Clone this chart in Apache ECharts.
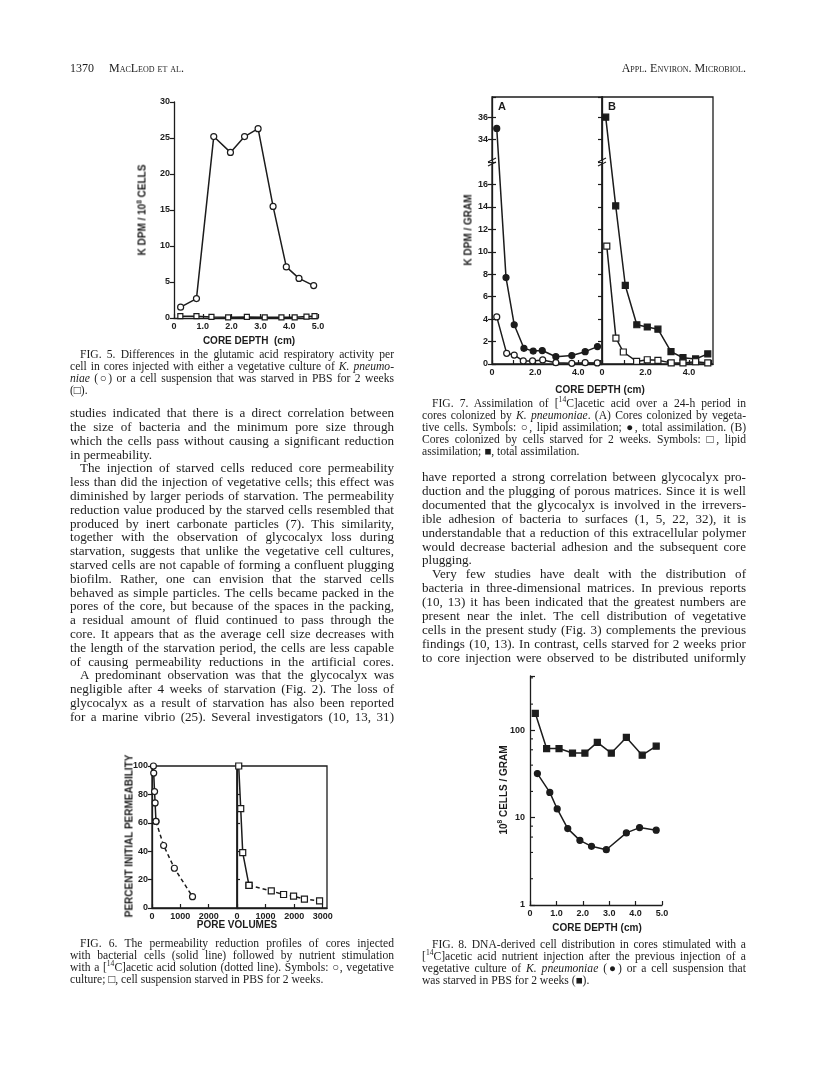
<!DOCTYPE html>
<html>
<head>
<meta charset="utf-8">
<script src="https://cdn.jsdelivr.net/npm/echarts@6.0.0/dist/echarts.min.js"></script>
<style>
  body { margin: 0; background: #fff; }
  #page { position: relative; width: 816px; height: 1078px; overflow: hidden; background: #fff; color: #1c1c1c; font-family: "Liberation Serif", "DejaVu Serif", serif; }
  #chart { position: absolute; left: 0; top: 0; width: 816px; height: 1078px; }
  .ln { position: absolute; white-space: nowrap; text-align: justify; text-align-last: justify; }
  .ln.end { text-align-last: left; }
  .ttl { position: absolute; font-family: "Liberation Sans", Arial, sans-serif; font-weight: bold; font-size: 10px; white-space: nowrap; color: #1c1c1c; }
  .rot { transform: translate(-50%, -50%) rotate(-90deg); }
  .hc { transform: translate(-50%, -50%); }
  sup { font-size: 0.65em; line-height: 0; }
  .sc { font-variant: small-caps; }
</style>
</head>
<body>
<div id="page">
  <div id="chart"></div>
</div>
<script>
// ---- Fig. 5: glutamic acid respiratory activity (K DPM / 10^8 cells) vs core depth
var f5VegDepth = [0.23, 0.78, 1.38, 1.96, 2.45, 2.92, 3.44, 3.9, 4.34, 4.85];
var f5Veg = [1.5, 2.7, 25.2, 23.0, 25.2, 26.3, 15.5, 7.1, 5.5, 4.5];
var f5StarvDepth = [0.22, 0.78, 1.3, 1.88, 2.53, 3.15, 3.73, 4.19, 4.6, 4.88];
var f5Starv = [0.25, 0.25, 0.15, 0.1, 0.15, 0.1, 0.1, 0.1, 0.2, 0.25];

// ---- Fig. 7: assimilation (K DPM / gram) vs core depth
var f7aTotalDepth = [0.22, 0.65, 1.03, 1.48, 1.91, 2.33, 2.96, 3.7, 4.32, 4.89];
var f7aTotal = [35, 7.7, 3.5, 1.4, 1.15, 1.2, 0.65, 0.75, 1.1, 1.55];
var f7aLipidDepth = [0.22, 0.68, 1.03, 1.45, 1.88, 2.35, 2.96, 3.7, 4.32, 4.88];
var f7aLipid = [4.2, 0.95, 0.8, 0.27, 0.27, 0.36, 0.12, 0.06, 0.12, 0.1];
var f7bTotalDepth = [0.17, 0.63, 1.07, 1.6, 2.08, 2.57, 3.17, 3.72, 4.3, 4.86];
var f7bTotal = [36, 14.1, 7.0, 3.5, 3.3, 3.1, 1.1, 0.56, 0.45, 0.9];
var f7bLipidDepth = [0.22, 0.64, 0.98, 1.59, 2.08, 2.57, 3.18, 3.72, 4.3, 4.86];
var f7bLipid = [10.5, 2.3, 1.07, 0.23, 0.38, 0.33, 0.1, 0.1, 0.2, 0.1];
var f7Break = [18, 32];   // y values cut out of the axis

// ---- Fig. 6: percent initial permeability vs pore volumes
var f6VegPV = [50, 60, 90, 110, 140, 410, 790, 1430];
var f6Veg = [100, 95, 82, 74, 61, 44, 28, 8];
var f6VegSolid = 5;       // first n points = cell injection (solid), rest nutrient (dashed)
var f6StarvPV = [60, 130, 200, 420, 1200, 1630, 1980, 2360, 2890];
var f6Starv = [100, 70, 39, 16, 12, 9.5, 8.3, 6.2, 5];
var f6StarvSolid = 4;

// ---- Fig. 8: 10^8 cells / gram vs core depth (log)
var f8StarvDepth = [0.2, 0.63, 1.1, 1.61, 2.08, 2.55, 3.08, 3.65, 4.25, 4.78];
var f8Starv = [157, 62, 62, 55, 55, 73, 55, 83, 52, 66];
var f8VegDepth = [0.28, 0.75, 1.03, 1.43, 1.89, 2.33, 2.89, 3.65, 4.15, 4.78];
var f8Veg = [32, 19.5, 12.6, 7.5, 5.5, 4.7, 4.3, 6.7, 7.7, 7.2];
var f8MinorTicks = [2, 4, 6, 8, 20, 40, 60, 80, 200, 400];

var INK = '#1c1c1c';
var labelFont = { fontFamily: 'Liberation Sans', fontWeight: 'bold', fontSize: 9, color: INK };

function pairs(xs, ys, fn) {
  return xs.map(function (x, i) { return [x, fn ? fn(ys[i]) : ys[i]]; });
}
function brk(v) { return v > f7Break[0] ? v - (f7Break[1] - f7Break[0]) : v; }

function lineSeries(grid, data, opts) {
  var filled = opts.filled;
  return {
    type: 'line', xAxisIndex: grid, yAxisIndex: grid, data: data,
    symbol: opts.symbol || 'circle', symbolSize: opts.size || 6,
    itemStyle: { color: filled ? INK : '#fff', borderColor: INK, borderWidth: 1.2 },
    lineStyle: { color: INK, width: 1.5, type: opts.dashed ? [4, 3] : 'solid' },
    z: 3, animation: false, silent: true
  };
}

function axisBase(extra) {
  var a = {
    axisLine: { show: true, onZero: false, lineStyle: { color: INK, width: 1.3 } },
    axisTick: { show: true, length: 4, lineStyle: { color: INK, width: 1.2 } },
    axisLabel: Object.assign({ margin: 4 }, labelFont),
    splitLine: { show: false }
  };
  return Object.assign(a, extra);
}

var f7yFmt = function (v) {
  if (v <= 16) return String(v);
  if (v >= 20) return String(v + f7Break[1] - f7Break[0]);
  return '';
};
var depthFmt = function (v) { return v === 0 ? '0' : v.toFixed(1); };
var evenDepthFmt = function (v) { return v === 0 ? '0' : (v % 2 === 0 ? v.toFixed(1) : ''); };
var plainFmt = function (v) { return String(v); };

var grids = [
  { left: 174, top: 102, width: 144, height: 216 },                                   // 0 fig 5
  { left: 492, top: 97, width: 110, height: 267, show: true, borderColor: INK, borderWidth: 1.3 },  // 1 fig 7A
  { left: 602, top: 97, width: 111, height: 267, show: true, borderColor: INK, borderWidth: 1.3 },  // 2 fig 7B
  { left: 152, top: 766, width: 85, height: 142, show: true, borderColor: INK, borderWidth: 1.3 },  // 3 fig 6 left
  { left: 237, top: 766, width: 90, height: 142, show: true, borderColor: INK, borderWidth: 1.3 },  // 4 fig 6 right
  { left: 530, top: 676, width: 132, height: 229 }                                    // 5 fig 8
];
grids.forEach(function (g) { g.containLabel = false; g.backgroundColor = 'transparent'; });

var inTick = { inside: true, length: 4, lineStyle: { color: INK, width: 1.2 } };
var xAxes = [
  axisBase({ gridIndex: 0, type: 'value', min: 0, max: 5, interval: 1, axisTick: inTick,
    axisLabel: Object.assign({ margin: 4, formatter: depthFmt }, labelFont) }),
  axisBase({ gridIndex: 1, type: 'value', min: 0, max: 5.1, interval: 1, axisTick: inTick,
    axisLabel: Object.assign({ margin: 4, formatter: evenDepthFmt, showMaxLabel: false }, labelFont) }),
  axisBase({ gridIndex: 2, type: 'value', min: 0, max: 5.1, interval: 1, axisTick: inTick,
    axisLabel: Object.assign({ margin: 4, formatter: evenDepthFmt, showMaxLabel: false }, labelFont) }),
  axisBase({ gridIndex: 3, type: 'value', min: 0, max: 3000, interval: 1000, axisTick: inTick,
    axisLabel: Object.assign({ margin: 4, formatter: plainFmt, showMaxLabel: false }, labelFont) }),
  axisBase({ gridIndex: 4, type: 'value', min: 0, max: 3150, interval: 1000, axisTick: inTick,
    axisLabel: Object.assign({ margin: 4, formatter: plainFmt, showMaxLabel: false }, labelFont) }),
  axisBase({ gridIndex: 5, type: 'value', min: 0, max: 5, interval: 1, axisTick: inTick,
    axisLabel: Object.assign({ margin: 4, formatter: depthFmt }, labelFont) })
];

var yAxes = [
  axisBase({ gridIndex: 0, type: 'value', min: 0, max: 30, interval: 5 }),
  axisBase({ gridIndex: 1, type: 'value', min: 0, max: brk(37.8), interval: 2,
    axisLabel: Object.assign({ margin: 4, formatter: f7yFmt, showMaxLabel: false }, labelFont) }),
  axisBase({ gridIndex: 2, type: 'value', min: 0, max: brk(37.8), interval: 2,
    axisLabel: { show: false } }),
  axisBase({ gridIndex: 3, type: 'value', min: 0, max: 100, interval: 20 }),
  axisBase({ gridIndex: 4, type: 'value', min: 0, max: 100, interval: 20,
    axisTick: { inside: true, length: 3, lineStyle: { color: INK, width: 1.2 } },
    axisLabel: { show: false } }),
  axisBase({ gridIndex: 5, type: 'log', logBase: 10, min: 1, max: 420,
    axisTick: { inside: true, length: 5, lineStyle: { color: INK, width: 1.2 } },
    axisLabel: Object.assign({ margin: 5, formatter: function (v) {
      return [1, 10, 100].indexOf(Math.round(v)) >= 0 ? String(Math.round(v)) : '';
    } }, labelFont) }),
  // extra: fig 7A right-side ticks reaching into panel B
  axisBase({ gridIndex: 1, type: 'value', position: 'right', min: 0, max: brk(37.8), interval: 2,
    axisLine: { show: false }, axisLabel: { show: false } })
];

var series = [
  lineSeries(0, pairs(f5VegDepth, f5Veg), { symbol: 'circle', size: 6 }),
  lineSeries(0, pairs(f5StarvDepth, f5Starv), { symbol: 'rect', size: 5 }),

  lineSeries(1, pairs(f7aTotalDepth, f7aTotal, brk), { symbol: 'circle', filled: true, size: 6 }),
  lineSeries(1, pairs(f7aLipidDepth, f7aLipid, brk), { symbol: 'circle', size: 6 }),
  lineSeries(2, pairs(f7bTotalDepth, f7bTotal, brk), { symbol: 'rect', filled: true, size: 6 }),
  lineSeries(2, pairs(f7bLipidDepth, f7bLipid, brk), { symbol: 'rect', size: 6 }),

  lineSeries(3, pairs(f6VegPV, f6Veg).slice(0, f6VegSolid), { symbol: 'circle', size: 6 }),
  lineSeries(3, pairs(f6VegPV, f6Veg).slice(f6VegSolid - 1), { symbol: 'circle', size: 6, dashed: true }),
  lineSeries(4, pairs(f6StarvPV, f6Starv).slice(0, f6StarvSolid), { symbol: 'rect', size: 6 }),
  lineSeries(4, pairs(f6StarvPV, f6Starv).slice(f6StarvSolid - 1), { symbol: 'rect', size: 6, dashed: true }),

  lineSeries(5, pairs(f8StarvDepth, f8Starv), { symbol: 'rect', filled: true, size: 6 }),
  lineSeries(5, pairs(f8VegDepth, f8Veg), { symbol: 'circle', filled: true, size: 6 }),
  {
    type: 'custom', xAxisIndex: 5, yAxisIndex: 5, silent: true, animation: false,
    data: f8MinorTicks.map(function (v) { return [0, v]; }),
    renderItem: function (params, api) {
      var p = api.coord([api.value(0), api.value(1)]);
      return { type: 'line', shape: { x1: p[0], y1: p[1], x2: p[0] + 3, y2: p[1] },
        style: { stroke: INK, lineWidth: 1.1 } };
    }
  }
];

var chart = echarts.init(document.getElementById('chart'), null, { renderer: 'canvas' });
chart.setOption({
  backgroundColor: 'transparent',
  animation: false,
  grid: grids,
  xAxis: xAxes,
  yAxis: yAxes,
  series: series
});

// axis break marks on fig 7 (left axis and panel divider)
var by = chart.convertToPixel({ yAxisIndex: 1 }, f7Break[0]);
var breakMarks = [];
[492, 602].forEach(function (bx) {
  [-2, 2].forEach(function (dy) {
    breakMarks.push({ type: 'line', shape: { x1: bx - 4, y1: by + dy + 2, x2: bx + 4, y2: by + dy - 2 },
      style: { stroke: INK, lineWidth: 1.2 } });
  });
  breakMarks.push({ type: 'rect', shape: { x: bx - 1.5, y: by - 1, width: 3, height: 2 },
    style: { fill: '#fff' } });
});
chart.setOption({ graphic: breakMarks });

// ---- page text
var page = document.getElementById('page');
function put(cls, html, css) {
  var d = document.createElement('div');
  d.className = cls;
  d.innerHTML = html;
  Object.keys(css).forEach(function (k) { d.style[k] = css[k]; });
  page.appendChild(d);
  return d;
}
// lines starting with ">" are indented, lines ending with "|" close a paragraph
function block(lines, x, w, yc, lh, size, indent) {
  lines.forEach(function (t, i) {
    var ind = t.charAt(0) === '>' ? indent : 0;
    var end = t.charAt(t.length - 1) === '|';
    t = t.replace(/^>/, '').replace(/\|$/, '');
    var d = put('ln' + (end ? ' end' : ''), t, {
      left: (x + ind) + 'px', width: (w - ind) + 'px', top: (yc + i * lh - lh / 2) + 'px',
      height: lh + 'px', lineHeight: lh + 'px', fontSize: size + 'px'
    });
    // squeeze lines that are set too wide for the column
    var over = d.scrollWidth - (w - ind);
    if (over > 0) d.style.letterSpacing = (-(over + 1) / d.textContent.length).toFixed(3) + 'px';
  });
}

put('ln end', '1370&nbsp;&nbsp;&nbsp;&nbsp;&nbsp;<span class="sc">MacLeod et al.</span>',
  { left: '70px', top: '61px', fontSize: '12px', lineHeight: '14px' });
put('ln end', '<span class="sc">Appl. Environ. Microbiol.</span>',
  { right: '70px', top: '61px', fontSize: '12px', lineHeight: '14px' });

var S = '<sup>14</sup>';
var CAP = 11.6, BODY = 13.1;
block([
  '>FIG. 5. Differences in the glutamic acid respiratory activity per',
  'cell in cores injected with either a vegetative culture of <i>K. pneumo-</i>',
  '<i>niae</i> (○) or a cell suspension that was starved in PBS for 2 weeks',
  '(□).|'
], 70, 324, 355, 12, CAP, 10);

block([
  'studies indicated that there is a direct correlation between',
  'the size of bacteria and the minimum pore size through',
  'which the cells pass without causing a significant reduction',
  'in permeability.|',
  '>The injection of starved cells reduced core permeability',
  'less than did the injection of vegetative cells; this effect was',
  'diminished by larger periods of starvation. The permeability',
  'reduction value produced by the starved cells resembled that',
  'produced by inert carbonate particles (7). This similarity,',
  'together with the observation of glycocalyx loss during',
  'starvation, suggests that unlike the vegetative cell cultures,',
  'starved cells are not capable of forming a confluent plugging',
  'biofilm. Rather, one can envision that the starved cells',
  'behaved as simple particles. The cells became packed in the',
  'pores of the core, but because of the spaces in the packing,',
  'a residual amount of fluid continued to pass through the',
  'core. It appears that as the average cell size decreases with',
  'the length of the starvation period, the cells are less capable',
  'of causing permeability reductions in the artificial cores.',
  '>A predominant observation was that the glycocalyx was',
  'negligible after 4 weeks of starvation (Fig. 2). The loss of',
  'glycocalyx as a result of starvation has also been reported',
  'for a marine vibrio (25). Several investigators (10, 13, 31)'
], 70, 324, 413, 13.8, BODY, 10);

block([
  '>FIG. 6. The permeability reduction profiles of cores injected',
  'with bacterial cells (solid line) followed by nutrient stimulation',
  'with a [' + S + 'C]acetic acid solution (dotted line). Symbols: ○, vegetative',
  'culture; □, cell suspension starved in PBS for 2 weeks.|'
], 70, 324, 944, 12, CAP, 10);

block([
  '>FIG. 7. Assimilation of [' + S + 'C]acetic acid over a 24-h period in',
  'cores colonized by <i>K. pneumoniae</i>. (A) Cores colonized by vegeta-',
  'tive cells. Symbols: ○, lipid assimilation; ●, total assimilation. (B)',
  'Cores colonized by cells starved for 2 weeks. Symbols: □, lipid',
  'assimilation; ■, total assimilation.|'
], 422, 324, 404, 12, CAP, 10);

block([
  'have reported a strong correlation between glycocalyx pro-',
  'duction and the plugging of porous matrices. Since it is well',
  'documented that the glycocalyx is involved in the irrevers-',
  'ible adhesion of bacteria to surfaces (1, 5, 22, 32), it is',
  'understandable that a reduction of this extracellular polymer',
  'would decrease bacterial adhesion and the subsequent core',
  'plugging.|',
  '>Very few studies have dealt with the distribution of',
  'bacteria in three-dimensional matrices. In previous reports',
  '(10, 13) it has been indicated that the greatest numbers are',
  'present near the inlet. The cell distribution of vegetative',
  'cells in the present study (Fig. 3) complements the previous',
  'findings (10, 13). In contrast, cells starved for 2 weeks prior',
  'to core injection were observed to be distributed uniformly'
], 422, 324, 477, 13.9, BODY, 10);

block([
  '>FIG. 8. DNA-derived cell distribution in cores stimulated with a',
  '[' + S + 'C]acetic acid nutrient injection after the previous injection of a',
  'vegetative culture of <i>K. pneumoniae</i> (●) or a cell suspension that',
  'was starved in PBS for 2 weeks (■).|'
], 422, 324, 945, 12, CAP, 10);

// ---- axis titles
put('ttl rot', 'K DPM / 10<sup>8</sup> CELLS', { left: '142px', top: '210px' });
put('ttl hc', 'CORE DEPTH&nbsp;&nbsp;(cm)', { left: '249px', top: '340px' });
put('ttl rot', 'K DPM / GRAM', { left: '468px', top: '230px' });
put('ttl hc', 'CORE DEPTH (cm)', { left: '600px', top: '389px' });
put('ttl rot', 'PERCENT INITIAL PERMEABILITY', { left: '129px', top: '836px' });
put('ttl hc', 'PORE VOLUMES', { left: '237px', top: '924px' });
put('ttl rot', '10<sup>8</sup> CELLS / GRAM', { left: '503px', top: '790px' });
put('ttl hc', 'CORE DEPTH (cm)', { left: '597px', top: '927px' });
put('ttl', 'A', { left: '498px', top: '100px', fontSize: '11px' });
put('ttl', 'B', { left: '608px', top: '100px', fontSize: '11px' });
</script>
</body>
</html>
